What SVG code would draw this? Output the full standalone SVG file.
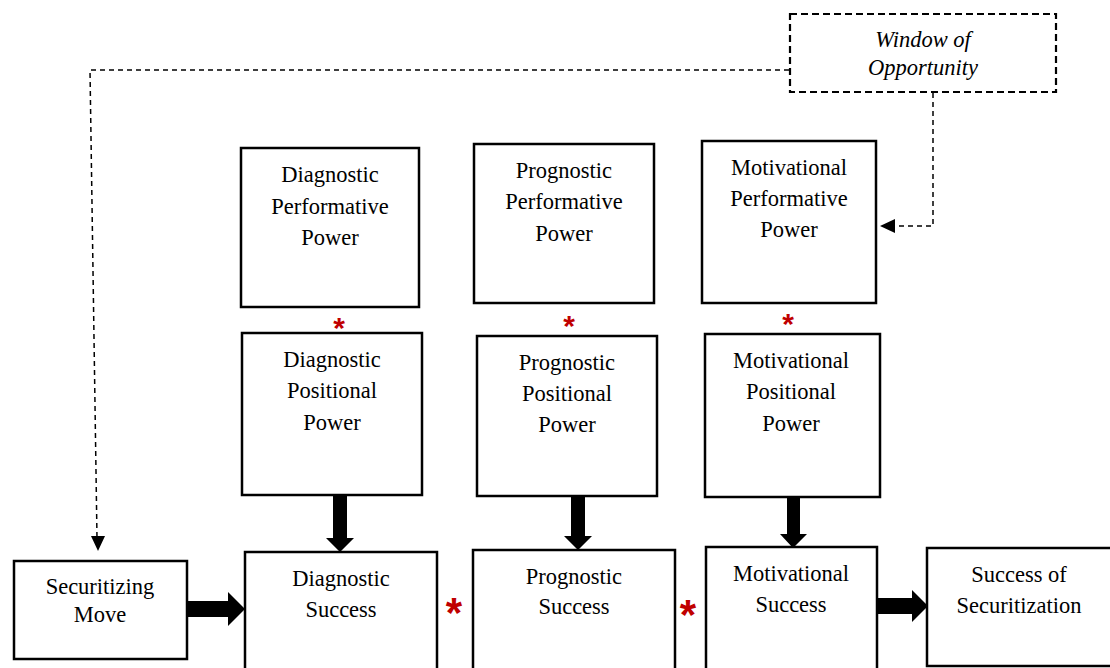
<svg xmlns="http://www.w3.org/2000/svg" width="1110" height="668" viewBox="0 0 1110 668">
<defs>
<style>
.box{fill:#fff;stroke:#000;stroke-width:2.5}
.dbox{fill:#fff;stroke:#000;stroke-width:2.2;stroke-dasharray:7 4}
.t{font-family:"Liberation Serif","Times New Roman",serif;font-size:22.5px;fill:#000;text-anchor:middle}
.it{font-style:italic}
.dash{fill:none;stroke:#000;stroke-width:1.5;stroke-dasharray:5 4}
.star{font-family:"Liberation Sans",Arial,sans-serif;font-weight:bold;fill:#c00000;text-anchor:middle}
.fat{fill:#000}
</style>
</defs>
<g id="connectors">
<path class="dash" d="M789,70 H90 L97,538" />
<path d="M91,536 L105,536 L98,551 z" fill="#000"/>
<path class="dash" d="M933,93 V226 H896" />
<path d="M895,219 L895,233 L880,226 z" fill="#000"/>
<path class="fat" d="M187,601 H228 V592 L245,609 L228,626 V617 H187 z"/>
<path class="fat" d="M333,495 H347 V538 H354 L340,552 L326,538 H333 z"/>
<path class="fat" d="M571,493 H585 V536 H592 L578,550 L564,536 H571 z"/>
<path class="fat" d="M787,497 H800 V534 H807 L793,548 L780,534 H787 z"/>
<path class="fat" d="M878,598 H912 V590 L928,606 L912,622 V614 H878 z"/>
</g>
<g id="window">
<rect class="dbox" x="790" y="14" width="266" height="78"/>
<text class="t it" x="923" y="47">Window of</text>
<text class="t it" x="923" y="75">Opportunity</text>
</g>
<g id="diag-perf">
<rect class="box" x="241" y="148" width="178" height="159"/>
<text class="t" x="330" y="182">Diagnostic</text>
<text class="t" x="330" y="214">Performative</text>
<text class="t" x="330" y="245">Power</text>
</g>
<g id="prog-perf">
<rect class="box" x="474" y="144" width="180" height="159"/>
<text class="t" x="564" y="178">Prognostic</text>
<text class="t" x="564" y="209">Performative</text>
<text class="t" x="564" y="241">Power</text>
</g>
<g id="motiv-perf">
<rect class="box" x="702" y="141" width="174" height="162"/>
<text class="t" x="789" y="175">Motivational</text>
<text class="t" x="789" y="206">Performative</text>
<text class="t" x="789" y="237">Power</text>
</g>
<g id="stars">
<text class="star" x="339" y="338" font-size="30">*</text>
<text class="star" x="569" y="336" font-size="30">*</text>
<text class="star" x="788" y="334" font-size="30">*</text>
<text class="star" x="454" y="627" font-size="42">*</text>
<text class="star" x="688" y="629" font-size="42">*</text>
</g>
<g id="diag-pos">
<rect class="box" x="242" y="333" width="180" height="162"/>
<text class="t" x="332" y="367">Diagnostic</text>
<text class="t" x="332" y="398">Positional</text>
<text class="t" x="332" y="430">Power</text>
</g>
<g id="prog-pos">
<rect class="box" x="477" y="336" width="180" height="160"/>
<text class="t" x="567" y="370">Prognostic</text>
<text class="t" x="567" y="401">Positional</text>
<text class="t" x="567" y="432">Power</text>
</g>
<g id="motiv-pos">
<rect class="box" x="705" y="334" width="175" height="163"/>
<text class="t" x="791" y="368">Motivational</text>
<text class="t" x="791" y="399">Positional</text>
<text class="t" x="791" y="431">Power</text>
</g>
<g id="securitizing-move">
<rect class="box" x="14" y="561" width="173" height="98"/>
<text class="t" x="100" y="594">Securitizing</text>
<text class="t" x="100" y="622">Move</text>
</g>
<g id="diag-success">
<rect class="box" x="245" y="552" width="192" height="125"/>
<text class="t" x="341" y="586">Diagnostic</text>
<text class="t" x="341" y="617">Success</text>
</g>
<g id="prog-success">
<rect class="box" x="473" y="550" width="202" height="127"/>
<text class="t" x="574" y="584">Prognostic</text>
<text class="t" x="574" y="614">Success</text>
</g>
<g id="motiv-success">
<rect class="box" x="706" y="547" width="171" height="130"/>
<text class="t" x="791" y="581">Motivational</text>
<text class="t" x="791" y="612">Success</text>
</g>
<g id="success-securitization">
<rect class="box" x="927" y="548" width="190" height="118"/>
<text class="t" x="1019" y="582">Success of</text>
<text class="t" x="1019" y="613">Securitization</text>
</g>
</svg>
